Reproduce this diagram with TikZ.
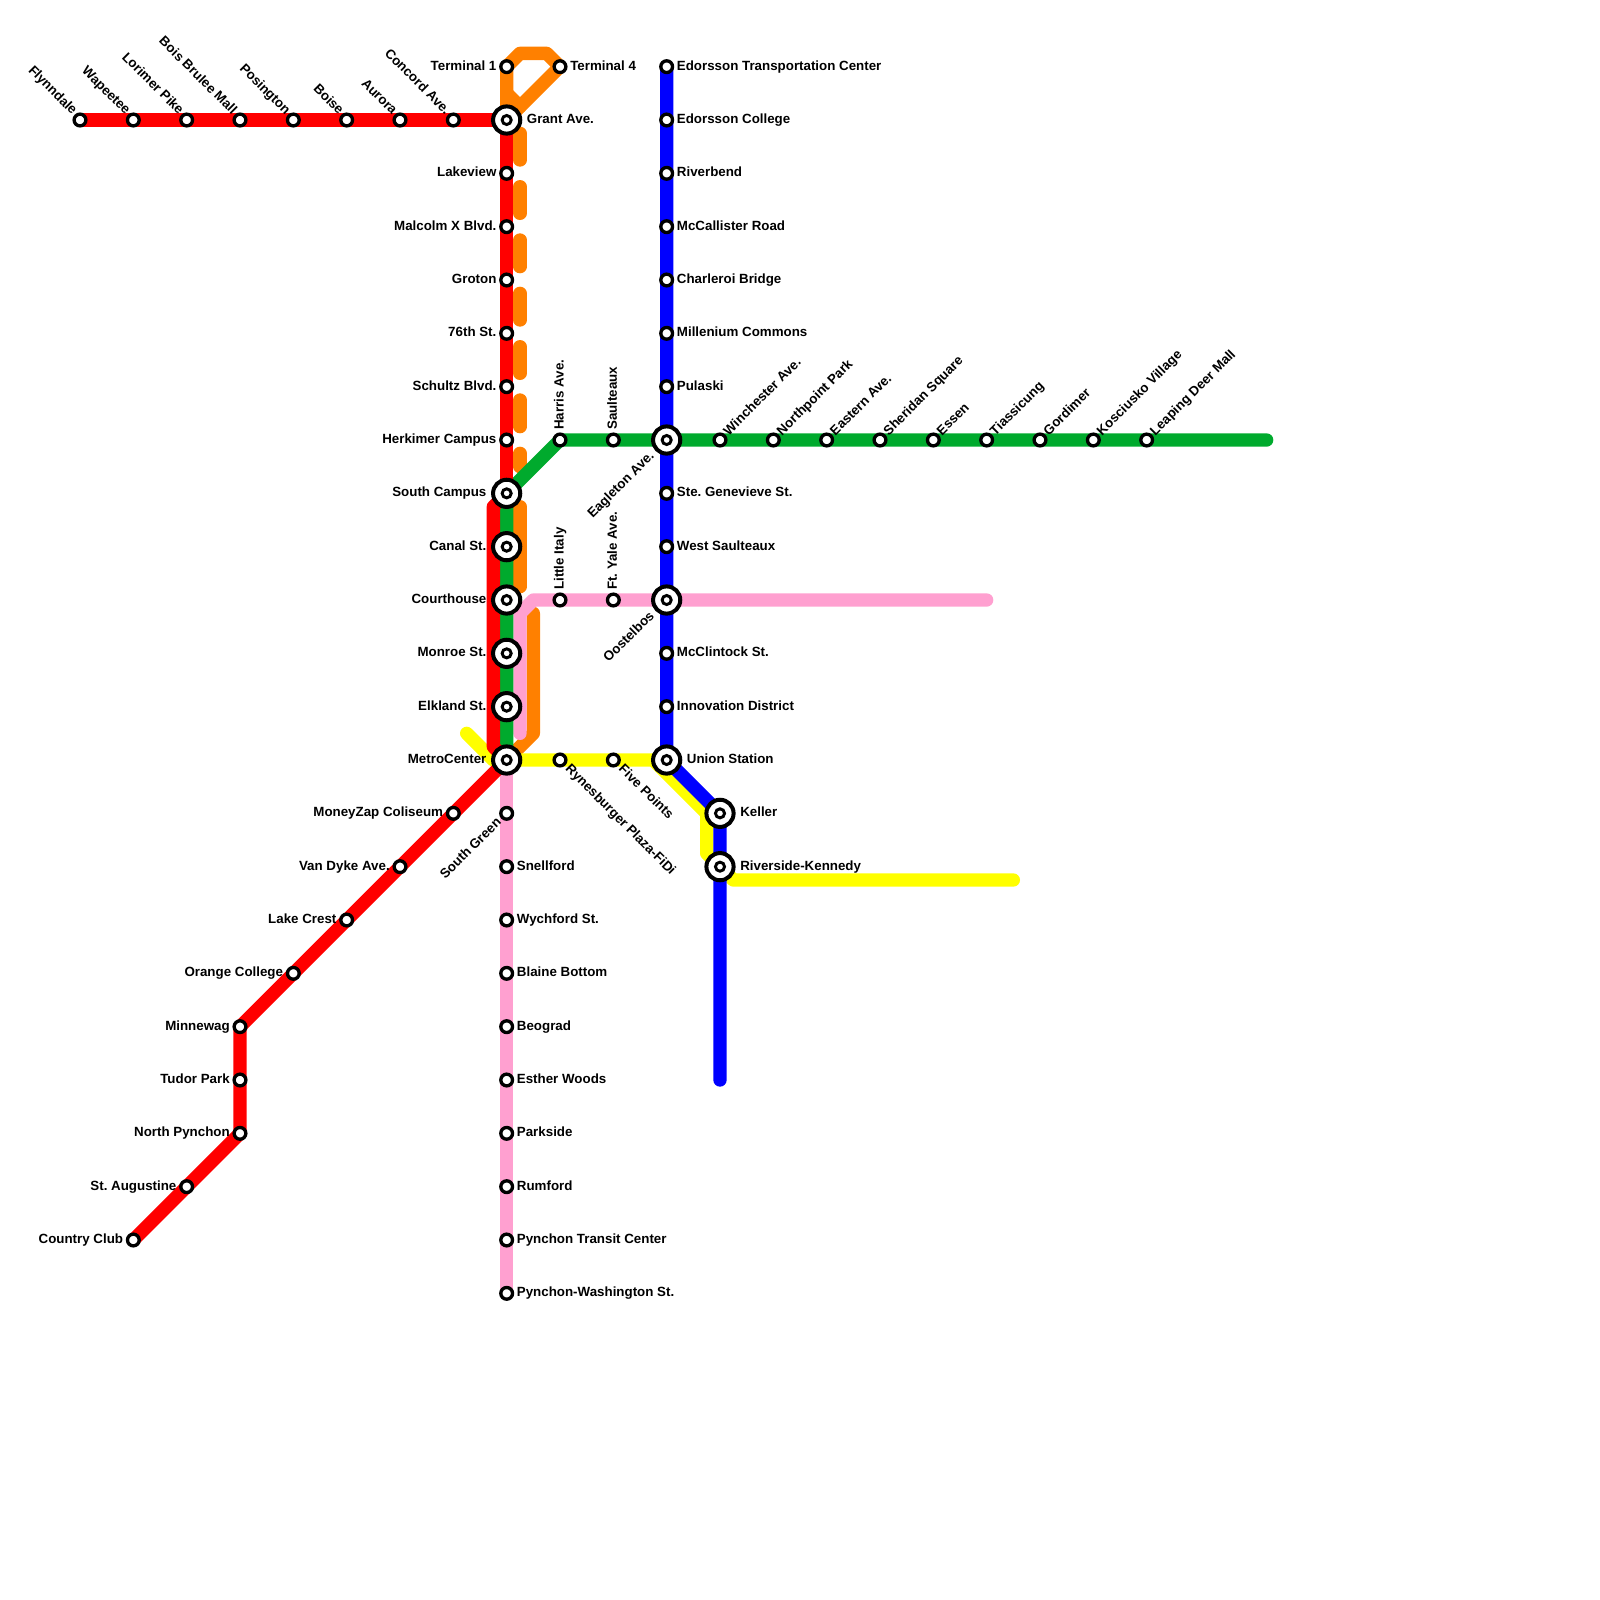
\documentclass[tikz,border=0pt]{standalone}
\usepackage{fontspec}
\setmainfont{Liberation Sans}
\frenchspacing
\usetikzlibrary{backgrounds}
\definecolor{lnred}{RGB}{255,0,0}
\definecolor{lnorange}{RGB}{255,128,0}
\definecolor{lngreen}{RGB}{0,170,45}
\definecolor{lnblue}{RGB}{0,0,255}
\definecolor{lnpink}{RGB}{255,160,208}
\definecolor{lnyellow}{RGB}{255,255,0}
\tikzset{
  rail/.style={line width=10pt, line cap=round, line join=round},
  stn/.style={circle, draw=black, fill=white, line width=2.5pt, minimum size=8.8pt, inner sep=0pt, outer sep=0pt},
  core/.style={circle, draw=black, fill=white, line width=2.2pt, minimum size=6.8pt, inner sep=0pt, outer sep=0pt},
  xch/.style={circle, draw=black, fill=white, line width=3pt, minimum size=20.4pt, inner sep=0pt, outer sep=0pt, label={[core, anchor=center]center:{}}},
  lble/.style={anchor=mid west, inner sep=0pt, font=\bfseries, xshift=7.5pt},
  lblw/.style={anchor=mid east, inner sep=0pt, font=\bfseries, xshift=-7.5pt},
  xlble/.style={anchor=mid west, inner sep=0pt, font=\bfseries, xshift=15pt},
  xlblw/.style={anchor=mid east, inner sep=0pt, font=\bfseries, xshift=-15pt},
  nwlbl/.style={rotate=-45, lblw, xshift=.8pt, yshift=.8pt},
  nelbl/.style={rotate=45, lble, xshift=-1pt},
  uplbl/.style={rotate=90, lble}
}
\begin{document}
\begin{tikzpicture}[x=1em,y=-1em]
\useasboundingbox (0,0) rectangle (120,120);
\node[stn] (flynndale) at (6,9) {};
\node[nwlbl] (flynndaletxt) at (flynndale) {Flynndale};
\node[stn] (wapeetee) at (10,9) {};
\node[nwlbl] (wapeeteetxt) at (wapeetee) {Wapeetee};
\node[stn] (lorimer) at (14,9) {};
\node[nwlbl] (lorimertxt) at (lorimer) {Lorimer Pike};
\node[stn] (bois) at (18,9) {};
\node[nwlbl] (boistxt) at (bois) {Bois Brulee Mall};
\node[stn] (posington) at (22,9) {};
\node[nwlbl] (posingtontxt) at (posington) {Posington};
\node[stn] (boise) at (26,9) {};
\node[nwlbl] (boisetxt) at (boise) {Boise};
\node[stn] (aurora) at (30,9) {};
\node[nwlbl] (auroratxt) at (aurora) {Aurora};
\node[stn] (concord) at (34,9) {};
\node[nwlbl] (concordtxt) at (concord) {Concord Ave.};
\node[stn] (termone) at (38,5) {};
\node[lblw] (termonetxt) at (termone) {Terminal 1};
\node[stn] (termfour) at (42,5) {};
\node[lble] (termfourtxt) at (termfour) {Terminal 4};
\node[xch] (grant) at (38,9) {};
\node[xlble] (granttxt) at (grant) {Grant Ave.};
\node[stn] (lakeview) at (38,13) {};
\node[lblw] (lakeviewtxt) at (lakeview) {Lakeview};
\node[stn] (malcolm) at (38,17) {};
\node[lblw] (malcolmtxt) at (malcolm) {Malcolm X Blvd.};
\node[stn] (groton) at (38,21) {};
\node[lblw] (grotontxt) at (groton) {Groton};
\node[stn] (seventysixth) at (38,25) {};
\node[lblw] (seventysixthtxt) at (seventysixth) {76th St.};
\node[stn] (schultz) at (38,29) {};
\node[lblw] (schultztxt) at (schultz) {Schultz Blvd.};
\node[stn] (herkimer) at (38,33) {};
\node[lblw] (herkimertxt) at (herkimer) {Herkimer Campus};
\node[xch] (southcampus) at (38,37) {};
\node[xlblw] (southcampustxt) at (southcampus) {South Campus};
\node[xch] (canal) at (38,41) {};
\node[xlblw] (canaltxt) at (canal) {Canal St.};
\node[xch] (courthouse) at (38,45) {};
\node[xlblw] (courthousetxt) at (courthouse) {Courthouse};
\node[xch] (monroe) at (38,49) {};
\node[xlblw] (monroetxt) at (monroe) {Monroe St.};
\node[xch] (elkland) at (38,53) {};
\node[xlblw] (elklandtxt) at (elkland) {Elkland St.};
\node[xch] (metrocenter) at (38,57) {};
\node[xlblw] (metrocentertxt) at (metrocenter) {MetroCenter};
\node[stn] (moneyzap) at (34,61) {};
\node[lblw] (moneyzaptxt) at (moneyzap) {MoneyZap Coliseum};
\node[stn] (vandyke) at (30,65) {};
\node[lblw] (vandyketxt) at (vandyke) {Van Dyke Ave.};
\node[stn] (lakecrest) at (26,69) {};
\node[lblw] (lakecresttxt) at (lakecrest) {Lake Crest};
\node[stn] (orangecollege) at (22,73) {};
\node[lblw] (orangecollegetxt) at (orangecollege) {Orange College};
\node[stn] (minnewag) at (18,77) {};
\node[lblw] (minnewagtxt) at (minnewag) {Minnewag};
\node[stn] (tudor) at (18,81) {};
\node[lblw] (tudortxt) at (tudor) {Tudor Park};
\node[stn] (northpynchon) at (18,85) {};
\node[lblw] (northpynchontxt) at (northpynchon) {North Pynchon};
\node[stn] (augustine) at (14,89) {};
\node[lblw] (augustinetxt) at (augustine) {St. Augustine};
\node[stn] (country) at (10,93) {};
\node[lblw] (countrytxt) at (country) {Country Club};
\node[stn] (southgreen) at (38,61) {};
\node[rotate=45,lblw] (southgreentxt) at (southgreen) {South Green};
\node[stn] (snellford) at (38,65) {};
\node[lble] (snellfordtxt) at (snellford) {Snellford};
\node[stn] (wychford) at (38,69) {};
\node[lble] (wychfordtxt) at (wychford) {Wychford St.};
\node[stn] (blaine) at (38,73) {};
\node[lble] (blainetxt) at (blaine) {Blaine Bottom};
\node[stn] (beograd) at (38,77) {};
\node[lble] (beogradtxt) at (beograd) {Beograd};
\node[stn] (esther) at (38,81) {};
\node[lble] (esthertxt) at (esther) {Esther Woods};
\node[stn] (parkside) at (38,85) {};
\node[lble] (parksidetxt) at (parkside) {Parkside};
\node[stn] (rumford) at (38,89) {};
\node[lble] (rumfordtxt) at (rumford) {Rumford};
\node[stn] (pynchontc) at (38,93) {};
\node[lble] (pynchontctxt) at (pynchontc) {Pynchon Transit Center};
\node[stn] (pynchonws) at (38,97) {};
\node[lble] (pynchonwstxt) at (pynchonws) {Pynchon-Washington St.};
\node[stn] (edorssontc) at (50,5) {};
\node[lble] (edorssontctxt) at (edorssontc) {Edorsson Transportation Center};
\node[stn] (edorssoncol) at (50,9) {};
\node[lble] (edorssoncoltxt) at (edorssoncol) {Edorsson College};
\node[stn] (riverbend) at (50,13) {};
\node[lble] (riverbendtxt) at (riverbend) {Riverbend};
\node[stn] (mccallister) at (50,17) {};
\node[lble] (mccallistertxt) at (mccallister) {McCallister Road};
\node[stn] (charleroi) at (50,21) {};
\node[lble] (charleroitxt) at (charleroi) {Charleroi Bridge};
\node[stn] (millenium) at (50,25) {};
\node[lble] (milleniumtxt) at (millenium) {Millenium Commons};
\node[stn] (pulaski) at (50,29) {};
\node[lble] (pulaskitxt) at (pulaski) {Pulaski};
\node[xch] (eagleton) at (50,33) {};
\node[rotate=45,xlblw] (eagletontxt) at (eagleton) {Eagleton Ave.};
\node[stn] (genevieve) at (50,37) {};
\node[lble] (genevievetxt) at (genevieve) {Ste. Genevieve St.};
\node[stn] (westsaulteaux) at (50,41) {};
\node[lble] (westsaulteauxtxt) at (westsaulteaux) {West Saulteaux};
\node[xch] (oostelbos) at (50,45) {};
\node[rotate=45,xlblw] (oostelbostxt) at (oostelbos) {Oostelbos};
\node[stn] (mcclintock) at (50,49) {};
\node[lble] (mcclintocktxt) at (mcclintock) {McClintock St.};
\node[stn] (innovation) at (50,53) {};
\node[lble] (innovationtxt) at (innovation) {Innovation District};
\node[xch] (union) at (50,57) {};
\node[xlble] (uniontxt) at (union) {Union Station};
\node[xch] (keller) at (54,61) {};
\node[xlble] (kellertxt) at (keller) {Keller};
\node[xch] (riverside) at (54,65) {};
\node[xlble] (riversidetxt) at (riverside) {Riverside-Kennedy};
\node[stn] (harris) at (42,33) {};
\node[uplbl] (harristxt) at (harris) {Harris Ave.};
\node[stn] (saulteaux) at (46,33) {};
\node[uplbl] (saulteauxtxt) at (saulteaux) {Saulteaux};
\node[stn] (winchester) at (54,33) {};
\node[nelbl] (winchestertxt) at (winchester) {Winchester Ave.};
\node[stn] (northpoint) at (58,33) {};
\node[nelbl] (northpointtxt) at (northpoint) {Northpoint Park};
\node[stn] (eastern) at (62,33) {};
\node[nelbl] (easterntxt) at (eastern) {Eastern Ave.};
\node[stn] (sheridan) at (66,33) {};
\node[nelbl] (sheridantxt) at (sheridan) {Sheridan Square};
\node[stn] (essen) at (70,33) {};
\node[nelbl] (essentxt) at (essen) {Essen};
\node[stn] (tiassicung) at (74,33) {};
\node[nelbl] (tiassicungtxt) at (tiassicung) {Tiassicung};
\node[stn] (gordimer) at (78,33) {};
\node[nelbl] (gordimertxt) at (gordimer) {Gordimer};
\node[stn] (kosciusko) at (82,33) {};
\node[nelbl] (kosciuskotxt) at (kosciusko) {Kosciusko Village};
\node[stn] (leaping) at (86,33) {};
\node[nelbl] (leapingtxt) at (leaping) {Leaping Deer Mall};
\node[stn] (littleitaly) at (42,45) {};
\node[uplbl] (littleitalytxt) at (littleitaly) {Little Italy};
\node[stn] (ftyale) at (46,45) {};
\node[uplbl] (ftyaletxt) at (ftyale) {Ft. Yale Ave.};
\node[stn] (rynesburger) at (42,57) {};
\node[rotate=-45,lble] (rynesburgertxt) at (rynesburger) {Rynesburger Plaza-FiDi};
\node[stn] (fivepoints) at (46,57) {};
\node[rotate=-45,lble] (fivepointstxt) at (fivepoints) {Five Points};
\coordinate (orangea) at (39,4);
\coordinate (orangeb) at (41,4);
\coordinate (orangeg) at (38,7);
\coordinate (orangeh) at (39,8);
\coordinate (dasha) at (39,10);
\coordinate (dashb) at (39,35);
\coordinate (orangec) at (39,38);
\coordinate (oranged) at (39,44);
\coordinate (orangee) at (40,46);
\coordinate (orangef) at (40,55);
\coordinate (reda) at (37,38);
\coordinate (redb) at (37,56);
\coordinate (pinkend) at (74,45);
\coordinate (pinka) at (40,45);
\coordinate (pinkb) at (39,46);
\coordinate (pinkc) at (39,55);
\coordinate (greenend) at (95,33);
\coordinate (blueend) at (54,81);
\coordinate (yellowstub) at (35,55);
\coordinate (yellowa) at (37,57);
\coordinate (yellowb) at (49,57);
\coordinate (yellowc) at (53,61);
\coordinate (yellowd) at (53,64);
\coordinate (yellowe) at (55,66);
\coordinate (yellowend) at (76,66);
\begin{pgfonlayer}{background}
\draw[rail, lnorange] (grant.center) -- (termone.center) -- (orangea) -- (orangeb) -- (termfour.center) -- (grant.center);
\draw[rail, lnorange] (orangeg) -- (orangeh);
\draw[rail, lnorange, dash pattern=on 20pt off 20pt] (dasha) -- (dashb);
\draw[rail, lnorange] (orangec) -- (oranged);
\draw[rail, lnorange] (orangee) -- (orangef) -- (metrocenter.center);
\draw[rail, lnpink] (pinkend) -- (pinka) -- (pinkb) -- (pinkc);
\draw[rail, lnpink] (metrocenter.center) -- (pynchonws.center);
\draw[rail, lnyellow] (yellowstub) -- (yellowa) -- (metrocenter.center) -- (yellowb) -- (yellowc) -- (yellowd) -- (yellowe) -- (yellowend);
\draw[rail, lngreen] (metrocenter.center) -- (southcampus.center) -- (harris.center) -- (greenend);
\draw[rail, lnblue] (edorssontc.center) -- (union.center) -- (keller.center) -- (blueend);
\draw[rail, lnred] (flynndale.center) -- (grant.center) -- (southcampus.center);
\draw[rail, lnred] (southcampus.center) -- (reda) -- (redb) -- (metrocenter.center);
\draw[rail, lnred] (metrocenter.center) -- (minnewag.center) -- (northpynchon.center) -- (country.center);
\end{pgfonlayer}
\end{tikzpicture}
\end{document}
